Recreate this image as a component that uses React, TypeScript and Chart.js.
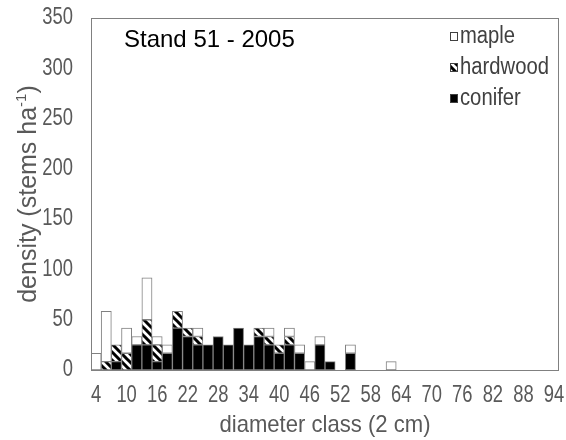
import { useEffect, useRef } from 'react';
import { Chart, registerables } from 'chart.js';

Chart.register(...registerables);

// Diameter classes (2 cm bins, labelled by class midpoint)
const diameterClasses = [
  '4', '6', '8', '10', '12', '14', '16', '18', '20', '22', '24', '26', '28', '30', '32', '34',
  '36', '38', '40', '42', '44', '46', '48', '50', '52', '54', '56', '58', '60', '62', '64', '66',
  '68', '70', '72', '74', '76', '78', '80', '82', '84', '86', '88', '90', '92', '94',
];

// Stem densities (stems/ha) per diameter class
const conifer = [
  0, 0, 8.33, 0, 25, 25, 8.33, 16.67, 41.67, 33.33, 25, 25, 33.33, 25, 41.67, 25,
  33.33, 25, 16.67, 25, 16.67, 0, 25, 8.33, 0, 16.67, 0, 0, 0, 0, 0, 0,
  0, 0, 0, 0, 0, 0, 0, 0, 0, 0, 0, 0, 0, 0,
];
const hardwood = [
  0, 8.33, 16.67, 16.67, 0, 25, 16.67, 0, 16.67, 8.33, 8.33, 0, 0, 0, 0, 0,
  8.33, 8.33, 8.33, 8.33, 0, 0, 0, 0, 0, 0, 0, 0, 0, 0, 0, 0,
  0, 0, 0, 0, 0, 0, 0, 0, 0, 0, 0, 0, 0, 0,
];
const maple = [
  16.67, 50, 0, 25, 8.33, 41.67, 8.33, 8.33, 0, 0, 8.33, 0, 0, 0, 0, 0,
  0, 8.33, 0, 8.33, 8.33, 8.33, 8.33, 0, 0, 8.33, 0, 0, 0, 8.33, 0, 0,
  0, 0, 0, 0, 0, 0, 0, 0, 0, 0, 0, 0, 0, 0,
];

const Y_MAX = 350;
const Y_STEP = 50;
const LABEL_EVERY = 3;

const chartTitle = 'Stand 51 - 2005';
const xTitle = 'diameter class (2 cm)';
const yTitleMain = 'density (stems ha';
const yTitleSup = '-1';
const yTitleEnd = ')';

const FONT = "'Liberation Sans', Arial, sans-serif";
const TEXT_GRAY = '#595959';
const LINE_GRAY = '#808080';

function makeHatch(): CanvasPattern | string {
  const tile = document.createElement('canvas');
  tile.width = 8;
  tile.height = 8;
  const c = tile.getContext('2d');
  if (!c) return '#888';
  c.fillStyle = '#ffffff';
  c.fillRect(0, 0, 8, 8);
  c.strokeStyle = '#000000';
  c.lineWidth = 3;
  c.beginPath();
  c.moveTo(-2, -2);
  c.lineTo(10, 10);
  c.moveTo(-2, 6);
  c.lineTo(2, 10);
  c.moveTo(6, -2);
  c.lineTo(10, 2);
  c.stroke();
  const p = c.createPattern(tile, 'repeat');
  return p ?? '#888';
}

const nz = (arr: number[]) => arr.map((v) => (v === 0 ? null : v));

// Text drawn with a horizontal squeeze to give a condensed face.
function condensedText(
  ctx: CanvasRenderingContext2D,
  text: string,
  x: number,
  y: number,
  size: number,
  squeeze: number,
  align: CanvasTextAlign,
  color: string,
) {
  ctx.save();
  ctx.font = `${size}px ${FONT}`;
  ctx.fillStyle = color;
  ctx.textAlign = align;
  ctx.textBaseline = 'middle';
  ctx.translate(x, y);
  ctx.scale(squeeze, 1);
  ctx.fillText(text, 0, 0);
  ctx.restore();
}

export default function App() {
  const canvasRef = useRef<HTMLCanvasElement | null>(null);

  useEffect(() => {
    const canvas = canvasRef.current;
    if (!canvas) return;
    const hatch = makeHatch();

    const legendItems = [
      { label: 'maple', fill: '#ffffff' as string | CanvasPattern },
      { label: 'hardwood', fill: hatch },
      { label: 'conifer', fill: '#000000' as string | CanvasPattern },
    ];

    const decorations = {
      id: 'standDecorations',
      afterDraw(chart: Chart) {
        const { ctx, chartArea: a } = chart;
        const xs: any = chart.scales.x;
        const ys: any = chart.scales.y;
        ctx.save();

        // plot frame
        ctx.strokeStyle = LINE_GRAY;
        ctx.lineWidth = 1;
        ctx.strokeRect(a.left + 0.5, a.top + 0.5, a.right - a.left - 1, a.bottom - a.top);

        // tick labels
        diameterClasses.forEach((lab, i) => {
          if (i % LABEL_EVERY !== 0) return;
          condensedText(ctx, lab, xs.getPixelForValue(i), a.bottom + 26, 23, 0.8, 'center', TEXT_GRAY);
        });
        ys.ticks.forEach((t: any) => {
          condensedText(ctx, String(t.value), a.left - 18, ys.getPixelForValue(t.value), 23, 0.8, 'right', TEXT_GRAY);
        });

        // x axis title
        condensedText(ctx, xTitle, (a.left + a.right) / 2, a.bottom + 55, 24, 0.92, 'center', TEXT_GRAY);

        // stand title
        ctx.fillStyle = '#000000';
        ctx.font = `24px ${FONT}`;
        ctx.textAlign = 'left';
        ctx.textBaseline = 'alphabetic';
        ctx.fillText(chartTitle, 124, 47);

        // legend
        const rows = [37, 68, 99];
        legendItems.forEach((item, i) => {
          const yc = rows[i];
          ctx.fillStyle = item.fill as any;
          ctx.fillRect(450, yc - 5, 8, 9);
          ctx.strokeStyle = '#404040';
          ctx.lineWidth = 1;
          ctx.strokeRect(450.5, yc - 4.5, 7, 8);
          condensedText(ctx, item.label, 460, yc, 23, 0.88, 'left', '#404040');
        });

        // y axis title with superscript
        ctx.translate(29, (a.top + a.bottom) / 2);
        ctx.rotate(-Math.PI / 2);
        ctx.fillStyle = TEXT_GRAY;
        ctx.textAlign = 'left';
        ctx.textBaseline = 'middle';
        const mainFont = `25px ${FONT}`;
        const supFont = `15px ${FONT}`;
        ctx.font = mainFont;
        const w1 = ctx.measureText(yTitleMain).width;
        const w3 = ctx.measureText(yTitleEnd).width;
        ctx.font = supFont;
        const w2 = ctx.measureText(yTitleSup).width;
        let x = -(w1 + w2 + w3) / 2;
        ctx.font = mainFont;
        ctx.fillText(yTitleMain, x, 0);
        x += w1;
        ctx.font = supFont;
        ctx.fillText(yTitleSup, x, -7);
        x += w2;
        ctx.font = mainFont;
        ctx.fillText(yTitleEnd, x, 0);

        ctx.restore();
      },
    };

    const chart = new Chart(canvas, {
      type: 'bar',
      data: {
        labels: diameterClasses,
        datasets: [
          { label: 'conifer', data: nz(conifer), backgroundColor: '#000000' },
          { label: 'hardwood', data: nz(hardwood), backgroundColor: hatch as any },
          { label: 'maple', data: nz(maple), backgroundColor: '#ffffff' },
        ].map((d) => ({
          ...d,
          borderColor: LINE_GRAY,
          borderWidth: 1,
          borderSkipped: false,
          barPercentage: 1,
          categoryPercentage: 1,
        })),
      },
      options: {
        responsive: false,
        animation: false,
        devicePixelRatio: 1,
        layout: { padding: { top: 18, right: 7, left: 0, bottom: 0 } },
        plugins: {
          legend: { display: false },
          tooltip: { enabled: false },
        },
        scales: {
          x: {
            stacked: true,
            grid: { display: false, drawTicks: false },
            border: { display: false },
            ticks: { display: false, autoSkip: false, maxRotation: 0 },
            afterFit: (s: any) => {
              s.height = 70;
            },
          },
          y: {
            stacked: true,
            min: 0,
            max: Y_MAX,
            grid: { display: false, drawTicks: false },
            border: { display: false },
            ticks: { display: false, stepSize: Y_STEP },
            afterFit: (s: any) => {
              s.width = 91;
            },
          },
        },
      },
      plugins: [decorations],
    });

    return () => chart.destroy();
  }, []);

  return (
    <div style={{ position: 'fixed', left: 0, top: 0, width: 566, height: 440, background: '#fff' }}>
      <canvas ref={canvasRef} width={566} height={440} style={{ display: 'block' }} />
    </div>
  );
}
